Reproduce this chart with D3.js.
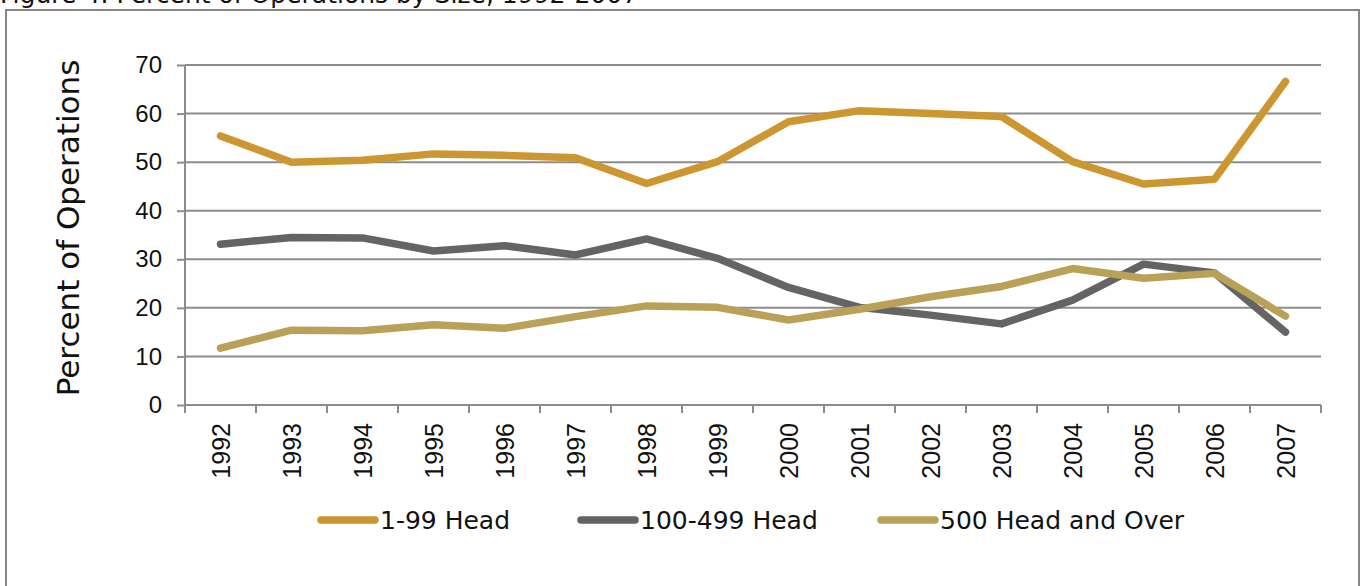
<!DOCTYPE html>
<html>
<head>
<meta charset="utf-8">
<script src="https://cdn.jsdelivr.net/npm/d3@7"></script>
<style>
  html, body { margin: 0; padding: 0; background: #fff; overflow: hidden; }
  svg { display: block; }
</style>
</head>
<body>
<svg id="chart" width="1361" height="586"></svg>
<script>
const years = ["1992","1993","1994","1995","1996","1997","1998","1999","2000","2001","2002","2003","2004","2005","2006","2007"];
const head1to99 = [55.4, 50.0, 50.4, 51.7, 51.4, 50.9, 45.6, 50.1, 58.3, 60.6, 60.0, 59.4, 50.1, 45.5, 46.5, 66.6];
const head100to499 = [33.1, 34.5, 34.4, 31.7, 32.8, 30.9, 34.2, 30.2, 24.2, 20.1, 18.5, 16.7, 21.6, 29.0, 27.2, 15.0];
const head500plus = [11.7, 15.4, 15.3, 16.5, 15.8, 18.2, 20.4, 20.1, 17.5, 19.7, 22.3, 24.4, 28.1, 26.1, 27.1, 18.3];
const seriesNames = ["1-99 Head", "100-499 Head", "500 Head and Over"];
const yTicks = [0, 10, 20, 30, 40, 50, 60, 70];
const titleText = "Figure 4: Percent of Operations by Size, 1992-2007";
const yAxisTitle = "Percent of Operations";

const colors = ["#CC9630", "#646464", "#B9A257"];
const seriesData = [head1to99, head100to499, head500plus];

const svg = d3.select("#chart");
const numFont = "'Liberation Sans', Arial, sans-serif";
const textFont = "'DejaVu Sans', sans-serif";

// clipped title at top (cut off in the reference too)
svg.append("text")
  .attr("x", 0).attr("y", 3)
  .attr("font-family", textFont).attr("font-size", 25)
  .attr("fill", "#111")
  .text(titleText);

// frame
svg.append("rect")
  .attr("x", 6).attr("y", 10).attr("width", 1353).attr("height", 600)
  .attr("fill", "none").attr("stroke", "#868686").attr("stroke-width", 2);

const x = d3.scaleBand().domain(years).range([185, 1321]).padding(0);
const y = d3.scaleLinear().domain([0, 70]).range([405, 65]);

// gridlines
svg.append("g").selectAll("line").data(yTicks.filter(d => d > 0)).join("line")
  .attr("x1", 185).attr("x2", 1321)
  .attr("y1", d => y(d)).attr("y2", d => y(d))
  .attr("stroke", "#8c8c8c").attr("stroke-width", 2);

// y axis
const yAxis = svg.append("g").attr("transform", "translate(185,0)")
  .call(d3.axisLeft(y).tickValues(yTicks).tickSize(8).tickPadding(15).tickFormat(d3.format("d")));
yAxis.select(".domain").attr("stroke", "#8c8c8c").attr("stroke-width", 2)
  .attr("d", `M0,${y(70)}V${y(0) + 6}`);
yAxis.selectAll(".tick line").attr("stroke", "#8c8c8c").attr("stroke-width", 2);
yAxis.selectAll(".tick text")
  .attr("font-family", numFont).attr("font-size", 24).attr("fill", "#111");

// x axis
const xg = svg.append("g").attr("transform", `translate(0,${y(0)})`);
xg.append("line").attr("x1", 185).attr("x2", 1321).attr("y1", 0).attr("y2", 0)
  .attr("stroke", "#8c8c8c").attr("stroke-width", 2);
const bounds = years.map(d => x(d)).concat([x(years[years.length - 1]) + x.bandwidth()]);
xg.selectAll("line.tk").data(bounds).join("line").attr("class", "tk")
  .attr("x1", d => d).attr("x2", d => d).attr("y1", 0).attr("y2", 8)
  .attr("stroke", "#8c8c8c").attr("stroke-width", 2);
xg.selectAll("text").data(years).join("text")
  .attr("transform", d => `translate(${x(d) + x.bandwidth() / 2 + 9},18) rotate(-90)`)
  .attr("text-anchor", "end")
  .attr("font-family", numFont).attr("font-size", 25).attr("fill", "#111")
  .text(d => d);

// y axis title
svg.append("text")
  .attr("transform", "translate(79,228) rotate(-90)")
  .attr("text-anchor", "middle")
  .attr("font-family", textFont).attr("font-size", 31).attr("fill", "#111")
  .text(yAxisTitle);

// lines
const line = d3.line()
  .x((d, i) => x(years[i]) + x.bandwidth() / 2)
  .y(d => y(d));
seriesData.forEach((s, i) => {
  svg.append("path").datum(s)
    .attr("d", line)
    .attr("fill", "none")
    .attr("stroke", colors[i])
    .attr("stroke-width", 7.5)
    .attr("stroke-linecap", "round")
    .attr("stroke-linejoin", "round");
});

// legend
const legendX = [318, 578, 878];
const lg = svg.append("g");
seriesNames.forEach((name, i) => {
  lg.append("line")
    .attr("x1", legendX[i] + 3).attr("x2", legendX[i] + 57)
    .attr("y1", 520).attr("y2", 520)
    .attr("stroke", colors[i]).attr("stroke-width", 7.5).attr("stroke-linecap", "round");
  lg.append("text")
    .attr("x", legendX[i] + 62).attr("y", 520).attr("dy", "0.36em")
    .attr("font-family", textFont).attr("font-size", 25).attr("fill", "#111")
    .text(name);
});
</script>
</body>
</html>
